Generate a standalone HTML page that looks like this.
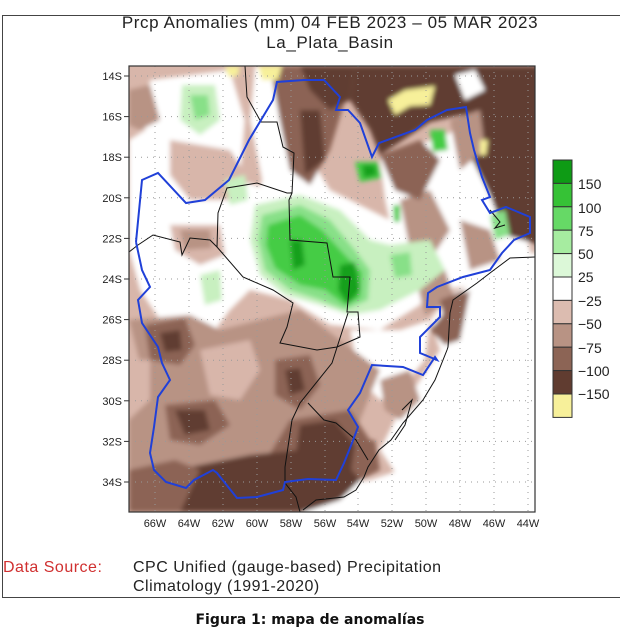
<!DOCTYPE html>
<html><head><meta charset="utf-8"><style>
html,body{margin:0;padding:0;background:#fff;}
body{width:620px;height:630px;position:relative;overflow:hidden;font-family:"Liberation Sans",sans-serif;}
.t{position:absolute;white-space:nowrap;}
</style></head><body>
<div style="position:absolute;left:2px;top:15px;width:630px;height:581px;border:1px solid #444;"></div>
<div class="t" style="left:0;width:660px;text-align:center;top:13px;font-size:17px;letter-spacing:0.6px;color:#222;">Prcp Anomalies (mm) 04 FEB 2023 – 05 MAR 2023</div>
<div class="t" style="left:0;width:660px;text-align:center;top:33px;font-size:17px;letter-spacing:0.6px;color:#222;">La_Plata_Basin</div>
<svg width="620" height="630" style="position:absolute;left:0;top:0">
<defs>
<clipPath id="c"><rect x="129" y="66" width="406" height="446"/></clipPath>
<filter id="b" x="-10%" y="-10%" width="120%" height="120%"><feGaussianBlur stdDeviation="2.5"/></filter>
</defs>
<g clip-path="url(#c)">
<rect x="120" y="60" width="420" height="460" fill="#d8b6aa"/>
<g filter="url(#b)">
<polygon fill="#fff" points="150,80 230,70 245,120 240,180 285,195 290,250 250,290 230,310 215,330 160,320 140,290 129,250 129,140 145,130"/>
<polygon fill="#fff" points="255,66 300,66 300,140 330,190 380,215 420,235 440,270 420,305 380,330 330,325 290,300 250,290 245,230 262,180 250,120"/>
<polygon fill="#fff" points="380,160 470,125 490,190 520,215 533,260 480,285 440,290 410,275 395,245 385,200"/>
<polygon fill="#fff" points="450,295 540,250 540,520 420,520 400,480 380,450 395,420 420,380 440,350 430,320"/>
<polygon fill="#fff" points="303,488 370,480 400,470 430,520 303,520"/>
<polygon fill="#fff" points="350,330 400,330 430,320 425,360 400,390 380,400 360,380"/>
<polygon fill="#b89384" points="400,200 430,190 450,230 430,260 410,250"/>
<polygon fill="#b89384" points="460,220 490,230 500,260 470,270"/>
<polygon fill="#b89384" points="415,275 445,270 455,300 425,315"/>
<polygon fill="#8c6455" points="430,330 455,300 470,290 460,340 445,345"/>
<polygon fill="#603c30" points="355,66 540,66 540,245 505,235 490,195 470,155 462,115 430,122 400,142 380,155 370,130 350,100"/>
<polygon fill="#8c6455" points="380,155 420,140 440,160 420,200 395,190"/>
<polygon fill="#b89384" points="450,120 480,110 485,150 460,170"/>
<polygon fill="#fff" points="455,75 475,70 485,90 465,100"/>
<polygon fill="#8c6455" points="270,66 345,66 345,100 330,150 310,185 290,170 280,120"/>
<polygon fill="#603c30" points="300,110 320,110 325,160 305,175"/>
<polygon fill="#603c30" points="300,66 355,66 350,100 330,110 310,90"/>
<polygon fill="#b89384" points="129,90 150,85 160,120 140,130 129,125"/>
<polygon fill="#d8b6aa" points="170,140 230,150 250,180 235,200 190,200 170,175"/>
<polygon fill="#d8b6aa" points="170,225 220,225 225,255 200,265 175,250"/>
<polygon fill="#b89384" points="180,230 210,230 212,248 185,250"/>
<polygon fill="#c8f0c0" points="182,85 215,85 220,120 200,135 180,120"/>
<polygon fill="#88e088" points="190,95 208,95 210,115 195,120"/>
<polygon fill="#c8f0c0" points="255,205 300,195 340,210 370,240 390,245 430,240 445,270 420,290 380,310 350,315 320,305 285,295 260,275 250,240"/>
<polygon fill="#88e088" points="262,215 300,205 330,220 355,250 370,270 368,300 345,310 320,300 290,290 265,270 258,240"/>
<polygon fill="#44cc44" points="268,225 300,215 322,230 345,255 362,272 360,298 345,305 325,290 300,285 275,268 266,245"/>
<polygon fill="#14a01c" points="290,240 302,240 305,265 293,270"/>
<polygon fill="#14a01c" points="340,265 355,262 360,290 348,305 338,290"/>
<polygon fill="#88e088" points="390,255 410,252 412,275 395,278"/>
<polygon fill="#44cc44" points="355,162 378,162 382,178 360,182"/>
<polygon fill="#14a01c" points="362,165 375,165 377,175 364,178"/>
<polygon fill="#44cc44" points="430,130 445,130 448,150 433,152"/>
<polygon fill="#44cc44" points="393,205 400,205 400,222 394,222"/>
<polygon fill="#88e088" points="490,215 505,210 510,235 495,240"/>
<polygon fill="#c8f0c0" points="225,180 245,175 248,200 230,205"/>
<polygon fill="#c8f0c0" points="200,275 220,270 222,300 205,305"/>
<polygon fill="#f7f09a" points="225,66 240,66 238,76 228,77"/>
<polygon fill="#f7f09a" points="258,66 282,66 278,80 262,80"/>
<polygon fill="#f7f09a" points="388,100 405,90 435,86 430,105 410,106 395,115"/>
<polygon fill="#f7f09a" points="480,140 488,140 486,155 480,155"/>
<polygon fill="#b89384" points="129,320 190,315 220,330 260,320 300,310 340,340 380,370 360,420 340,480 300,512 129,512 129,420 150,400"/>
<polygon fill="#d8b6aa" points="200,350 250,340 260,370 240,400 210,395"/>
<polygon fill="#d8b6aa" points="129,360 150,360 150,400 129,410"/>
<polygon fill="#8c6455" points="145,325 185,318 195,345 180,365 150,360"/>
<polygon fill="#603c30" points="160,333 180,330 182,350 165,352"/>
<polygon fill="#8c6455" points="275,360 310,355 320,385 300,410 275,395"/>
<polygon fill="#603c30" points="285,370 300,368 305,390 290,395"/>
<polygon fill="#8c6455" points="165,405 215,400 230,425 200,445 170,440"/>
<polygon fill="#603c30" points="175,410 205,410 210,430 185,435"/>
<polygon fill="#8c6455" points="290,420 350,410 370,440 360,480 300,490 260,470"/>
<polygon fill="#603c30" points="300,425 335,420 355,445 350,480 310,488 295,460"/>
<polygon fill="#603c30" points="175,470 250,455 300,450 340,455 360,480 340,500 303,512 175,512"/>
<polygon fill="#8c6455" points="129,470 175,460 200,470 180,512 129,512"/>
<polygon fill="#8c6455" points="355,440 375,440 380,470 360,480"/>
<polygon fill="#8c6455" points="440,300 465,290 460,320 445,325"/>
<polygon fill="#b89384" points="380,380 410,370 420,400 400,420 385,410"/>
</g>
<g stroke="#999" stroke-width="1" stroke-dasharray="1,5">
<line x1="129" y1="76" x2="535" y2="76"/><line x1="129" y1="116.6" x2="535" y2="116.6"/><line x1="129" y1="157.2" x2="535" y2="157.2"/><line x1="129" y1="197.8" x2="535" y2="197.8"/><line x1="129" y1="238.4" x2="535" y2="238.4"/><line x1="129" y1="279" x2="535" y2="279"/><line x1="129" y1="319.6" x2="535" y2="319.6"/><line x1="129" y1="360.2" x2="535" y2="360.2"/><line x1="129" y1="400.8" x2="535" y2="400.8"/><line x1="129" y1="441.4" x2="535" y2="441.4"/><line x1="129" y1="482" x2="535" y2="482"/>
<line x1="155" y1="66" x2="155" y2="512"/><line x1="189" y1="66" x2="189" y2="512"/><line x1="223" y1="66" x2="223" y2="512"/><line x1="257" y1="66" x2="257" y2="512"/><line x1="291" y1="66" x2="291" y2="512"/><line x1="325" y1="66" x2="325" y2="512"/><line x1="358" y1="66" x2="358" y2="512"/><line x1="392" y1="66" x2="392" y2="512"/><line x1="426" y1="66" x2="426" y2="512"/><line x1="460" y1="66" x2="460" y2="512"/><line x1="494" y1="66" x2="494" y2="512"/><line x1="528" y1="66" x2="528" y2="512"/>
</g>
<g fill="none" stroke="#111" stroke-width="1">
<polyline points="245,66 247,97 261,122 277,122 283,147 294,153 292,193 289,200 290,240 327,243 333,277 350,277 347,312 358,312 360,337 337,347 317,350 280,343 287,327 293,303 273,290 243,277 217,247 210,240 190,238 182,255 180,242 153,235 138,245 129,252"/>
<polyline points="217,247 218,213 227,188 257,183 287,193 292,193"/>
<polyline points="348,313 332,363 300,403 292,420 285,467 285,483 296,497 300,512"/>
<polyline points="308,403 324,420 336,423 356,440 368,460"/>
<polyline points="535,257 510,258 490,273 477,283 453,300 450,313 448,347 447,350 435,380 423,400 403,423 391,440 379,450 368,467 364,477 356,490 344,497 316,500 303,510"/>
<polyline points="402,410 412,400 405,425 395,440"/>
<polyline points="490,210 500,222 495,228 505,225"/>
</g>
<polyline fill="none" stroke="#2040d8" stroke-width="2" points="136,242 142,180 158,173 186,203 205,200 229,180 249,140 273,100 277,82 304,80 324,80 340,97 336,110 348,110 360,123 372,157 379,143 415,130 427,120 447,110 466,107 470,133 474,150 482,177 490,197 482,200 490,213 506,207 530,217 530,233 514,240 502,253 490,270 463,277 437,287 428,293 427,307 440,307 440,317 420,337 420,353 437,360 435,357 423,375 403,367 372,365 360,393 348,410 358,427 352,443 344,463 336,480 308,479 285,482 283,490 257,497 237,498 217,473 213,470 194,480 186,488 166,482 154,470 150,453 154,427 158,397 170,380 162,363 158,347 142,323 138,300 150,287 142,270 136,242"/>
</g>
<rect x="129" y="66" width="406" height="446" fill="none" stroke="#333" stroke-width="1.2"/>
<g stroke="#333"><line x1="124" y1="76" x2="129" y2="76"/><line x1="124" y1="116.6" x2="129" y2="116.6"/><line x1="124" y1="157.2" x2="129" y2="157.2"/><line x1="124" y1="197.8" x2="129" y2="197.8"/><line x1="124" y1="238.4" x2="129" y2="238.4"/><line x1="124" y1="279" x2="129" y2="279"/><line x1="124" y1="319.6" x2="129" y2="319.6"/><line x1="124" y1="360.2" x2="129" y2="360.2"/><line x1="124" y1="400.8" x2="129" y2="400.8"/><line x1="124" y1="441.4" x2="129" y2="441.4"/><line x1="124" y1="482" x2="129" y2="482"/></g>
<g font-family="Liberation Sans Narrow, Liberation Sans, sans-serif" font-size="11" fill="#222" text-anchor="end">
<text x="122" y="80">14S</text><text x="122" y="120.6">16S</text><text x="122" y="161.2">18S</text><text x="122" y="201.8">20S</text><text x="122" y="242.4">22S</text><text x="122" y="283">24S</text><text x="122" y="323.6">26S</text><text x="122" y="364.2">28S</text><text x="122" y="404.8">30S</text><text x="122" y="445.4">32S</text><text x="122" y="486">34S</text>
</g>
<g font-family="Liberation Sans Narrow, Liberation Sans, sans-serif" font-size="11" fill="#222" text-anchor="middle">
<text x="155" y="527">66W</text><text x="189" y="527">64W</text><text x="223" y="527">62W</text><text x="257" y="527">60W</text><text x="291" y="527">58W</text><text x="325" y="527">56W</text><text x="358" y="527">54W</text><text x="392" y="527">52W</text><text x="426" y="527">50W</text><text x="460" y="527">48W</text><text x="494" y="527">46W</text><text x="528" y="527">44W</text>
</g>
<g stroke="#333" stroke-width="1">
<rect x="553" y="160" width="19" height="23.4" fill="#0e9b15"/>
<rect x="553" y="183.4" width="19" height="23.4" fill="#36c236"/>
<rect x="553" y="206.8" width="19" height="23.4" fill="#66d966"/>
<rect x="553" y="230.2" width="19" height="23.4" fill="#a6eca0"/>
<rect x="553" y="253.6" width="19" height="23.4" fill="#dcf8d8"/>
<rect x="553" y="277" width="19" height="23.4" fill="#ffffff"/>
<rect x="553" y="300.4" width="19" height="23.4" fill="#dcbcb0"/>
<rect x="553" y="323.8" width="19" height="23.4" fill="#b89384"/>
<rect x="553" y="347.2" width="19" height="23.4" fill="#8c6455"/>
<rect x="553" y="370.6" width="19" height="23.4" fill="#603c30"/>
<rect x="553" y="394" width="19" height="23.4" fill="#f7f09a"/>
</g>
<g font-family="Liberation Sans, sans-serif" font-size="14" fill="#222">
<text x="578" y="189">150</text><text x="578" y="213">100</text><text x="578" y="236">75</text><text x="578" y="259">50</text><text x="578" y="282">25</text><text x="578" y="306">−25</text><text x="578" y="329">−50</text><text x="578" y="353">−75</text><text x="578" y="376">−100</text><text x="578" y="399">−150</text>
</g>
</svg>
<div class="t" style="left:3px;top:559px;font-size:16px;color:#d03030;letter-spacing:0.5px;">Data Source:</div>
<div class="t" style="left:133px;top:559px;font-size:16px;color:#222;letter-spacing:0.5px;">CPC Unified (gauge-based) Precipitation</div>
<div class="t" style="left:133px;top:578px;font-size:16px;color:#222;letter-spacing:0.5px;">Climatology (1991-2020)</div>
<div class="t" style="left:0;width:620px;text-align:center;top:612px;font-size:14px;font-weight:bold;font-family:'DejaVu Sans',sans-serif;color:#111;">Figura 1: mapa de anomalías</div>
</body></html>
